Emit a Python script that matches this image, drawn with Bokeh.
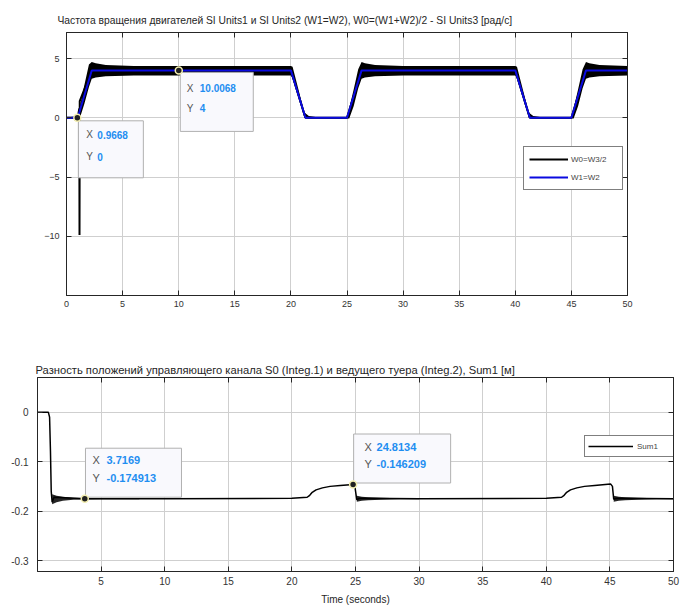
from bokeh.plotting import figure
from bokeh.models import Range1d, LinearAxis, FixedTicker, Legend, LegendItem
from bokeh.embed import file_html
from bokeh.resources import INLINE
from bokeh.core.properties import value

FONT = "Liberation Sans"

# ---------------- top chart data ----------------
top_title = "Частота вращения двигателей SI Units1 и SI Units2 (W1=W2), W0=(W1+W2)/2 - SI Units3 [рад/с]"
top_legend_labels = ["W0=W3/2", "W1=W2"]
top_x_ticks = [0, 5, 10, 15, 20, 25, 30, 35, 40, 45, 50]
top_y_ticks = [-10, -5, 0, 5]

# W1=W2 (blue)
w12_t = [0, 1.0, 2.25, 20.0, 21.3, 25.0, 26.3, 40.0, 41.3, 45.0, 46.3, 50.0]
w12_v = [0, 0, 4, 4, 0, 0, 4, 4, 0, 0, 4, 4]

# W0 (black) centre line incl. start spike
w0_t = [0, 1.0, 1.14, 1.16, 1.18, 2.25, 20.0, 21.3, 25.0, 26.3, 40.0, 41.3, 45.0, 46.3, 50.0]
w0_v = [0, 0, 0.8, -9.9, 1.4, 4.0, 4.0, 0, 0, 4.0, 4.0, 0, 0, 4.0, 4.0]

# W0 oscillation envelope
w0_band_t = [0, 1.0, 1.2, 1.6, 2.0, 2.25, 2.6, 3.5, 6.0,
             20.0, 20.15, 21.2, 21.6, 22.2,
             25.0, 25.2, 25.6, 26.0, 26.3, 26.6, 27.5, 30.0,
             40.0, 40.15, 41.2, 41.6, 42.2,
             45.0, 45.2, 45.6, 46.0, 46.3, 46.6, 47.5, 50.0]
w0_band_hi = [0.05, 0.1, 1.0, 2.8, 4.5, 4.7, 4.6, 4.45, 4.38,
              4.38, 4.3, 0.45, 0.15, 0.06,
              0.06, 0.8, 2.4, 4.1, 4.7, 4.6, 4.45, 4.38,
              4.38, 4.3, 0.45, 0.15, 0.06,
              0.06, 0.8, 2.4, 4.1, 4.7, 4.6, 4.45, 4.38]
w0_band_lo = [-0.05, -0.05, 0.0, 1.2, 2.6, 3.3, 3.4, 3.5, 3.58,
              3.58, 3.3, 0.0, -0.05, -0.05,
              -0.05, -0.05, 1.0, 2.5, 3.3, 3.4, 3.5, 3.58,
              3.58, 3.3, 0.0, -0.05, -0.05,
              -0.05, -0.05, 1.0, 2.5, 3.3, 3.4, 3.5, 3.58]

top_tip_x = [0.9668, 10.0068]
top_tip_y = [0, 4]
top_tip_xtxt = ["0.9668", "10.0068"]
top_tip_ytxt = ["0", "4"]

# ---------------- bottom chart data ----------------
bot_title = "Разность положений управляющего канала S0 (Integ.1) и ведущего туера (Integ.2), Sum1 [м]"
bot_legend_labels = ["Sum1"]
bot_x_label = "Time (seconds)"
bot_x_ticks = [5, 10, 15, 20, 25, 30, 35, 40, 45, 50]
bot_y_ticks = [0, -0.1, -0.2, -0.3]
bot_y_tick_labels = {0: "0", -0.1: "-0.1", -0.2: "-0.2", -0.3: "-0.3"}

sum_t = [0, 0.85, 0.95, 1.02, 1.08, 1.15, 1.3, 3.7169, 10.0, 20.0,
         21.2, 21.4, 21.6, 21.9, 22.4, 23.0, 23.8, 24.8134, 24.95, 25.1, 25.3,
         30.0, 40.0,
         41.2, 41.4, 41.6, 41.9, 42.4, 43.0, 43.8, 45.05, 45.2, 45.3, 45.5, 50.0]
sum_v = [0, 0, -0.01, -0.08, -0.16, -0.182, -0.172, -0.174913, -0.175, -0.174,
         -0.172, -0.168, -0.162, -0.157, -0.153, -0.150, -0.148, -0.146209, -0.150, -0.177, -0.174,
         -0.175, -0.174,
         -0.172, -0.168, -0.162, -0.157, -0.153, -0.150, -0.148, -0.145, -0.150, -0.176, -0.174, -0.175]

osc1_t = [1.15, 1.5, 2.0, 2.8, 3.7, 5.0, 8.0]
osc1_hi = [-0.166, -0.169, -0.171, -0.173, -0.1735, -0.174, -0.1742]
osc1_lo = [-0.186, -0.182, -0.179, -0.177, -0.1765, -0.176, -0.1758]
osc2_t = [25.1, 25.5, 26.0, 27.0, 28.5, 30.0]
osc2_hi = [-0.169, -0.171, -0.172, -0.173, -0.174, -0.1742]
osc2_lo = [-0.181, -0.179, -0.178, -0.177, -0.176, -0.1758]
osc3_t = [45.3, 45.7, 46.2, 47.2, 48.7, 50.0]
osc3_hi = [-0.169, -0.171, -0.172, -0.173, -0.174, -0.1742]
osc3_lo = [-0.181, -0.179, -0.178, -0.177, -0.176, -0.1758]

bot_tip_x = [3.7169, 24.8134]
bot_tip_y = [-0.174913, -0.146209]
bot_tip_xtxt = ["3.7169", "24.8134"]
bot_tip_ytxt = ["-0.174913", "-0.146209"]

# ---------------- helpers ----------------
AX_COLOR = "#262626"
GRID = "#cfcfcf"
BLUE_TXT = "#1f8ef1"


def style_axes(p, xticks, yticks, tick_fs, xstand, ystand):
    xa = p.below[0]
    ya = p.left[0]
    xa.ticker = FixedTicker(ticks=xticks)
    ya.ticker = FixedTicker(ticks=yticks)
    p.xgrid.ticker = FixedTicker(ticks=xticks)
    p.ygrid.ticker = FixedTicker(ticks=yticks)
    for g in (p.xgrid, p.ygrid):
        g.grid_line_color = GRID
        g.grid_line_width = 1
    for ax in (xa, ya):
        ax.axis_line_color = AX_COLOR
        ax.major_tick_line_color = AX_COLOR
        ax.major_tick_in = 5
        ax.major_tick_out = 0
        ax.minor_tick_line_color = None
        ax.major_label_text_font = FONT
        ax.major_label_text_font_size = tick_fs
        ax.major_label_text_color = "#333333"
    xa.major_label_standoff = xstand
    ya.major_label_standoff = ystand
    # mirrored tick axes (box with ticks on all sides)
    r = LinearAxis(ticker=FixedTicker(ticks=yticks), major_label_text_font_size="0px",
                   major_label_standoff=0, major_tick_in=5, major_tick_out=0,
                   minor_tick_line_color=None, axis_line_color=AX_COLOR,
                   major_tick_line_color=AX_COLOR)
    t = LinearAxis(ticker=FixedTicker(ticks=xticks), major_label_text_font_size="0px",
                   major_label_standoff=0, major_tick_in=5, major_tick_out=0,
                   minor_tick_line_color=None, axis_line_color=AX_COLOR,
                   major_tick_line_color=AX_COLOR)
    p.add_layout(r, "right")
    p.add_layout(t, "above")
    p.outline_line_color = AX_COLOR
    p.outline_line_width = 1
    return xa, ya


def add_tip(p, sx, sy, tx, ty, xtxt, ytxt, box, txt_dx, val_dx, row1, row2, fs):
    bdx, bdy, bw, bh = box
    cx = tx + bdx / sx
    cy = ty - bdy / sy
    p.rect(x=[cx], y=[cy], width=bw, height=bh, width_units="screen", height_units="screen",
           fill_color="#f9f9fd", line_color="#b0b0b0", line_width=1)
    p.scatter(x=[tx], y=[ty], size=7, fill_color="#202020", line_color="#f3eeb0", line_width=1.5)
    for lab, val, dy in (("X", xtxt, row1), ("Y", ytxt, row2)):
        p.text(x=[tx], y=[ty], text=[lab], x_offset=txt_dx, y_offset=dy,
               text_font=value(FONT), text_font_size=fs, text_color="#555555",
               text_baseline="middle", text_align="left")
        p.text(x=[tx], y=[ty], text=[val], x_offset=val_dx, y_offset=dy,
               text_font=value(FONT), text_font_size=fs, text_color=BLUE_TXT,
               text_font_style="bold", text_baseline="middle", text_align="left")


# ---------------- top figure ----------------
T_X0, T_X1, T_Y0, T_Y1 = 0, 50, -15, 7.2
T_FW, T_FH = 561, 263
p1 = figure(width=680, height=343, frame_width=T_FW, frame_height=T_FH,
            x_range=Range1d(T_X0, T_X1), y_range=Range1d(T_Y0, T_Y1),
            output_backend="svg", toolbar_location=None,
            min_border_left=66, min_border_right=53, min_border_top=32, min_border_bottom=48)
p1.title.text = top_title
p1.title.align = "left"
p1.title.offset = -9
p1.title.text_font = FONT
p1.title.text_font_size = "10.3px"
p1.title.text_font_style = "normal"
p1.title.text_color = "#262626"
p1.title.standoff = 13
style_axes(p1, top_x_ticks, top_y_ticks, "9px", 5, 7)

l_w0 = p1.line(w0_t, w0_v, line_color="black", line_width=2)
p1.varea(x=w0_band_t, y1=w0_band_lo, y2=w0_band_hi, fill_color="black")
l_w12 = p1.line(w12_t, w12_v, line_color="#0a0ae0", line_width=2)

sx1 = T_FW / (T_X1 - T_X0)
sy1 = T_FH / (T_Y1 - T_Y0)
add_tip(p1, sx1, sy1, top_tip_x[0], top_tip_y[0], top_tip_xtxt[0], top_tip_ytxt[0],
        (33.5, 31.5, 65, 57), 9, 20, 17, 39, "10px")
add_tip(p1, sx1, sy1, top_tip_x[1], top_tip_y[1], top_tip_xtxt[1], top_tip_ytxt[1],
        (38, 31.5, 73, 59), 8, 21, 18, 38, "10px")

leg1 = Legend(items=[LegendItem(label=top_legend_labels[0], renderers=[l_w0]),
                     LegendItem(label=top_legend_labels[1], renderers=[l_w12])],
              location=(457, 105))
leg1.border_line_color = "black"
leg1.border_line_width = 1
leg1.background_fill_color = "white"
leg1.background_fill_alpha = 1
leg1.padding = 5
leg1.spacing = 4
leg1.margin = 0
leg1.glyph_width = 39
leg1.glyph_height = 14
leg1.label_height = 14
leg1.label_width = 46
leg1.label_standoff = 3
leg1.label_text_font = FONT
leg1.label_text_font_size = "8px"
p1.add_layout(leg1)

# ---------------- bottom figure ----------------
B_X0, B_X1, B_Y0, B_Y1 = 0, 50, -0.322, 0.07
B_FW, B_FH = 636, 194
p2 = figure(width=680, height=263, frame_width=B_FW, frame_height=B_FH,
            x_range=Range1d(B_X0, B_X1), y_range=Range1d(B_Y0, B_Y1),
            output_backend="svg", toolbar_location=None,
            min_border_left=37, min_border_right=7, min_border_top=34, min_border_bottom=35)
p2.title.text = bot_title
p2.title.align = "left"
p2.title.offset = -2
p2.title.text_font = FONT
p2.title.text_font_size = "11.2px"
p2.title.text_font_style = "normal"
p2.title.text_color = "#262626"
p2.title.standoff = 4
xa2, ya2 = style_axes(p2, bot_x_ticks, bot_y_ticks, "10px", 5, 9)
ya2.major_label_overrides = bot_y_tick_labels
xa2.axis_label = bot_x_label
xa2.axis_label_text_font = FONT
xa2.axis_label_text_font_size = "10px"
xa2.axis_label_text_font_style = "normal"
xa2.axis_label_text_color = "#262626"
xa2.axis_label_standoff = 6

for bt, bl, bh in ((osc1_t, osc1_lo, osc1_hi), (osc2_t, osc2_lo, osc2_hi), (osc3_t, osc3_lo, osc3_hi)):
    p2.varea(x=bt, y1=bl, y2=bh, fill_color="black", fill_alpha=0.85)
l_sum = p2.line(sum_t, sum_v, line_color="black", line_width=1.5)

sx2 = B_FW / (B_X1 - B_X0)
sy2 = B_FH / (B_Y1 - B_Y0)
add_tip(p2, sx2, sy2, bot_tip_x[0], bot_tip_y[0], bot_tip_xtxt[0], bot_tip_ytxt[0],
        (48.7, -26, 96, 49), 7.7, 21.7, -38.6, -20.6, "11px")
add_tip(p2, sx2, sy2, bot_tip_x[1], bot_tip_y[1], bot_tip_xtxt[1], bot_tip_ytxt[1],
        (49, -26, 97, 49), 11.4, 23.4, -37.4, -20.4, "11px")

leg2 = Legend(items=[LegendItem(label=bot_legend_labels[0], renderers=[l_sum])],
              location=(547, 114))
leg2.border_line_color = "black"
leg2.border_line_width = 1
leg2.background_fill_color = "white"
leg2.background_fill_alpha = 1
leg2.padding = 3
leg2.spacing = 0
leg2.margin = 0
leg2.glyph_width = 45
leg2.glyph_height = 14
leg2.label_height = 14
leg2.label_width = 33
leg2.label_standoff = 4
leg2.label_text_font = FONT
leg2.label_text_font_size = "8px"
p2.add_layout(leg2)

open("out.html", "w").write(file_html([p1, p2], INLINE))
